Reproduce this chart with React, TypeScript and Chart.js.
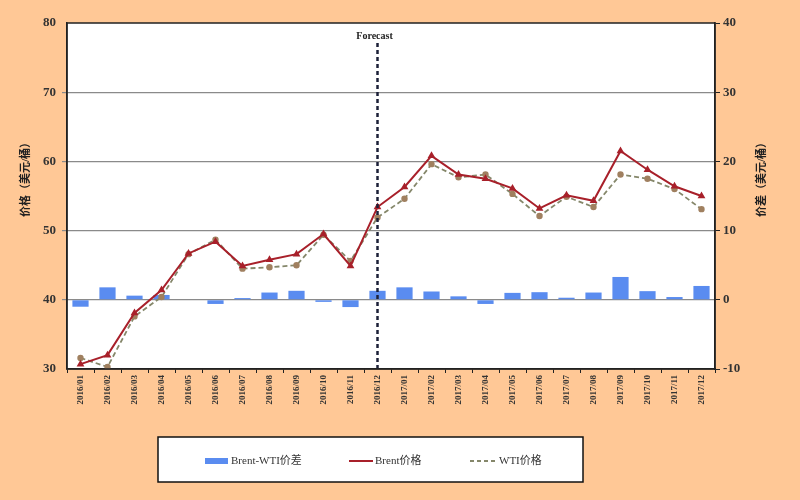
import React, { useEffect, useRef } from "react";
import { Chart, registerables } from "chart.js";

Chart.register(...registerables);

const categories = [
  "2016/01", "2016/02", "2016/03", "2016/04", "2016/05", "2016/06",
  "2016/07", "2016/08", "2016/09", "2016/10", "2016/11", "2016/12",
  "2017/01", "2017/02", "2017/03", "2017/04", "2017/05", "2017/06",
  "2017/07", "2017/08", "2017/09", "2017/10", "2017/11", "2017/12",
];

const spreadValues = [
  -1.0, 1.8, 0.6, 0.7, 0.0, -0.6, 0.25, 1.05, 1.3, -0.3, -1.05, 1.3,
  1.8, 1.2, 0.5, -0.6, 1.0, 1.1, 0.3, 1.05, 3.3, 1.25, 0.4, 2.0,
];

const brentValues = [
  30.7, 32.0, 38.1, 41.4, 46.7, 48.4, 44.9, 45.8, 46.6, 49.5, 44.9, 53.4,
  56.3, 60.8, 58.1, 57.5, 56.1, 53.2, 55.1, 54.3, 61.5, 58.8, 56.4, 55.0,
];

const wtiValues = [
  31.6, 30.3, 37.6, 40.4, 46.6, 48.7, 44.5, 44.7, 45.0, 49.4, 45.6, 51.9,
  54.6, 59.6, 57.7, 58.1, 55.3, 52.1, 54.9, 53.4, 58.1, 57.5, 56.0, 53.1,
];

const leftTicks = [30, 40, 50, 60, 70, 80];
const rightTicks = [-10, 0, 10, 20, 30, 40];

const seriesNames = ["Brent-WTI价差", "Brent价格", "WTI价格"];
const leftTitle = "价格（美元/桶）";
const rightTitle = "价差（美元/桶）";
const forecastLabel = "Forecast";
const forecastCategory = "2016/12";

const BG = "#FFC896";
const BAR = "#5A8CF0";
const BRENT = "#A8202A";
const WTI_LINE = "#85876A";
const WTI_POINT = "#A08060";
const SERIF = "'Liberation Serif', 'DejaVu Serif', serif";
const CJK_SERIF = `'Liberation Serif', 'Noto Sans CJK SC', serif`;

const decorPlugin = {
  id: "decor",
  beforeDraw(chart: any) {
    const { ctx, chartArea } = chart;
    ctx.save();
    ctx.fillStyle = BG;
    ctx.fillRect(0, 0, chart.width, chart.height);
    ctx.fillStyle = "#ffffff";
    ctx.fillRect(chartArea.left, chartArea.top, chartArea.right - chartArea.left, chartArea.bottom - chartArea.top);
    ctx.restore();
  },
  afterDatasetsDraw(chart: any) {
    const { ctx, chartArea } = chart;
    const x = chart.scales.x;
    ctx.save();
    const fx = x.getPixelForValue(categories.indexOf(forecastCategory));
    ctx.strokeStyle = "#1c2038";
    ctx.lineWidth = 2.5;
    ctx.setLineDash([4, 3]);
    ctx.beginPath();
    ctx.moveTo(fx, chartArea.top + 20);
    ctx.lineTo(fx, chartArea.bottom);
    ctx.stroke();
    ctx.setLineDash([]);
    ctx.fillStyle = "#222";
    ctx.font = `bold 10px ${SERIF}`;
    ctx.textAlign = "center";
    ctx.textBaseline = "middle";
    ctx.fillText(forecastLabel, fx - 3, chartArea.top + 13);
    ctx.restore();
  },
  afterDraw(chart: any) {
    const { ctx, chartArea } = chart;
    ctx.save();
    ctx.strokeStyle = "#222";
    ctx.lineWidth = 1.5;
    ctx.strokeRect(chartArea.left, chartArea.top, chartArea.right - chartArea.left, chartArea.bottom - chartArea.top);

    ctx.fillStyle = "#222";
    ctx.font = `bold 11px ${CJK_SERIF}`;
    ctx.textAlign = "center";
    ctx.textBaseline = "middle";
    const cy = 177;
    ctx.save();
    ctx.translate(26, cy);
    ctx.rotate(-Math.PI / 2);
    ctx.fillText(leftTitle, 0, 0);
    ctx.restore();
    ctx.save();
    ctx.translate(762, cy);
    ctx.rotate(-Math.PI / 2);
    ctx.fillText(rightTitle, 0, 0);
    ctx.restore();

    const lx = 158, ly = 437, lw = 425, lh = 45;
    ctx.fillStyle = "#ffffff";
    ctx.fillRect(lx, ly, lw, lh);
    ctx.strokeStyle = "#111";
    ctx.lineWidth = 1.5;
    ctx.strokeRect(lx, ly, lw, lh);
    const my = ly + 24;
    ctx.font = `11px ${CJK_SERIF}`;
    ctx.textAlign = "left";
    ctx.fillStyle = BAR;
    ctx.fillRect(205, my - 3, 23, 6);
    ctx.fillStyle = "#333";
    ctx.fillText(seriesNames[0], 231, my);
    ctx.strokeStyle = BRENT;
    ctx.lineWidth = 2;
    ctx.beginPath();
    ctx.moveTo(349, my);
    ctx.lineTo(373, my);
    ctx.stroke();
    ctx.fillText(seriesNames[1], 375, my);
    ctx.strokeStyle = WTI_LINE;
    ctx.setLineDash([4, 3]);
    ctx.beginPath();
    ctx.moveTo(470, my);
    ctx.lineTo(496, my);
    ctx.stroke();
    ctx.setLineDash([]);
    ctx.fillText(seriesNames[2], 499, my);
    ctx.restore();
  },
};

export default function App() {
  const ref = useRef<HTMLCanvasElement | null>(null);
  useEffect(() => {
    if (!ref.current) return;
    const tickFont = { family: SERIF, size: 13, weight: "bold" as const };
    const chart = new Chart(ref.current, {
      type: "bar",
      data: {
        labels: categories,
        datasets: [
          {
            type: "line",
            label: seriesNames[1],
            data: brentValues,
            yAxisID: "y",
            borderColor: BRENT,
            backgroundColor: BRENT,
            borderWidth: 2,
            pointStyle: "triangle",
            pointRadius: 2.5,
            pointBackgroundColor: BRENT,
            pointBorderColor: BRENT,
            tension: 0,
            order: 1,
          },
          {
            type: "line",
            label: seriesNames[2],
            data: wtiValues,
            yAxisID: "y",
            borderColor: WTI_LINE,
            backgroundColor: WTI_POINT,
            borderWidth: 1.8,
            borderDash: [5, 3],
            pointStyle: "circle",
            pointRadius: 2.3,
            pointBackgroundColor: WTI_POINT,
            pointBorderColor: WTI_POINT,
            tension: 0,
            order: 2,
          },
          {
            type: "bar",
            label: seriesNames[0],
            data: spreadValues,
            yAxisID: "y1",
            backgroundColor: BAR,
            categoryPercentage: 1,
            barPercentage: 0.6,
            order: 3,
          },
        ] as any,
      },
      options: {
        animation: false,
        responsive: false,
        maintainAspectRatio: false,
        layout: { padding: { top: 23, left: 0, right: 0, bottom: 0 } },
        plugins: {
          legend: { display: false },
          tooltip: { enabled: false },
        },
        scales: {
          x: {
            offset: true,
            grid: {
              offset: true,
              drawOnChartArea: false,
              drawTicks: true,
              tickLength: 4,
              color: "#222",
            },
            border: { display: true, color: "#222", width: 1.5 },
            ticks: {
              autoSkip: false,
              minRotation: 90,
              maxRotation: 90,
              padding: 2,
              color: "#333",
              font: { family: SERIF, size: 9, weight: "bold" },
            },
            afterFit(scale: any) {
              scale.height = 131;
            },
          },
          y: {
            position: "left",
            min: 30,
            max: 80,
            afterBuildTicks(scale: any) {
              scale.ticks = leftTicks.map((v) => ({ value: v }));
            },
            grid: {
              drawTicks: true,
              tickLength: 5,
              color: (c: any) =>
                c.tick && (c.tick.value === 30 || c.tick.value === 80) ? "rgba(0,0,0,0)" : "#8a8a8a",
              lineWidth: 1.2,
            },
            border: { display: true, color: "#222", width: 1.5 },
            ticks: { color: "#333", font: tickFont, padding: 6 },
            afterFit(scale: any) {
              scale.width = 67;
            },
          },
          y1: {
            position: "right",
            min: -10,
            max: 40,
            afterBuildTicks(scale: any) {
              scale.ticks = rightTicks.map((v) => ({ value: v }));
            },
            grid: {
              drawOnChartArea: false,
              drawTicks: true,
              tickLength: 5,
              color: "#222",
            },
            border: { display: true, color: "#222", width: 1.5 },
            ticks: { color: "#333", font: tickFont, padding: 3 },
            afterFit(scale: any) {
              scale.width = 85;
            },
          },
        },
      } as any,
      plugins: [decorPlugin],
    });
    return () => chart.destroy();
  }, []);

  return (
    <div style={{ position: "absolute", left: 0, top: 0, width: 800, height: 500, background: BG }}>
      <canvas ref={ref} width={800} height={500} style={{ display: "block", width: 800, height: 500 }} />
    </div>
  );
}
